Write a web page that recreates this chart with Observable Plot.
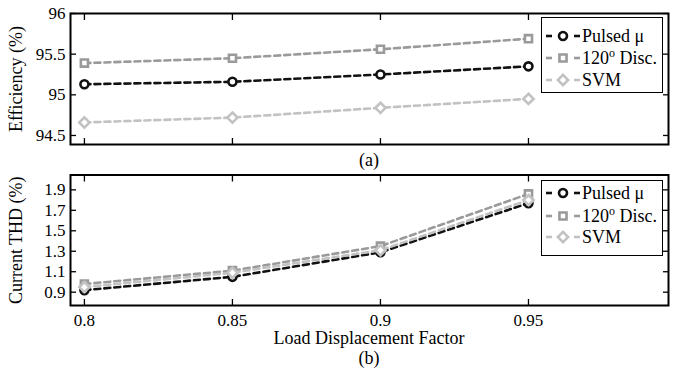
<!DOCTYPE html>
<html>
<head>
<meta charset="utf-8">
<script src="https://cdn.jsdelivr.net/npm/d3@7"></script>
<script src="https://cdn.jsdelivr.net/npm/@observablehq/plot@0.6"></script>
<style>
  html, body { margin: 0; padding: 0; background: white; }
  #wrap { position: relative; width: 681px; height: 369px; background: white; font-family: "Times New Roman", Tinos, serif; color: black; }
  #wrap svg, #wrap svg text, #wrap svg g { font-family: "Times New Roman", Tinos, serif !important; }
  .cap { position: absolute; left: 70px; width: 598px; text-align: center; font-size: 18px; line-height: 18px; }
  .legend { position: absolute; left: 541px; width: 120px; height: 74px; border: 1.5px solid black; background: white; }
  .legrow { position: absolute; left: 3px; height: 22px; display: flex; align-items: center; font-size: 18px; white-space: nowrap; }
  .legrow svg { display: block; margin-right: 2px; }
</style>
</head>
<body>
<div id="wrap"></div>
<script>
// ---- data ----
const xVals = [0.8, 0.85, 0.9, 0.95];
const seriesNames = ["Pulsed μ", "120o Disc.", "SVM"];
const effPulsed = [95.13, 95.16, 95.25, 95.35];
const effDisc   = [95.39, 95.45, 95.56, 95.69];
const effSVM    = [94.66, 94.72, 94.84, 94.95];
const thdPulsed = [0.92, 1.05, 1.29, 1.77];
const thdDisc   = [0.98, 1.11, 1.35, 1.86];
const thdSVM    = [0.95, 1.09, 1.31, 1.80];
const effTicks = [94.5, 95, 95.5, 96];
const thdTicks = [0.9, 1.1, 1.3, 1.5, 1.7, 1.9];
const xLabel = "Load Displacement Factor";
const effLabel = "Efficiency (%)";
const thdLabel = "Current THD (%)";

// ---- styles ----
const styles = [
  {color: "#111111", symbol: "circle", r: 4},
  {color: "#9a9a9a", symbol: "square", r: 4},
  {color: "#c2c2c2", symbol: "diamond2", r: 4.6}
];
const font = "'Times New Roman', Tinos, serif";
const xDomain = [0.7953, 0.9973];

function seriesMarks(valuesList) {
  const marks = [];
  valuesList.forEach((vals, s) => {
    const rows = xVals.map((x, i) => ({x, y: vals[i], series: seriesNames[s]}));
    const st = styles[s];
    marks.push(Plot.line(rows, {x: "x", y: "y", stroke: st.color, strokeWidth: 2.6, strokeDasharray: "6,4"}));
    marks.push(Plot.dot(rows, {x: "x", y: "y", symbol: st.symbol, r: st.r, fill: "white", stroke: st.color, strokeWidth: 2.6}));
  });
  return marks;
}

function tickAxes(yTicks) {
  return [
    Plot.axisY(yTicks, {anchor: "left", tickSize: -6, tickFormat: () => "", label: null, strokeWidth: 1.3}),
    Plot.axisY(yTicks, {anchor: "right", tickSize: -6, tickFormat: () => "", label: null, strokeWidth: 1.3}),
    Plot.axisX(xVals, {anchor: "bottom", tickSize: -6, tickFormat: () => "", label: null, strokeWidth: 1.3}),
    Plot.axisX(xVals, {anchor: "top", tickSize: -6, tickFormat: () => "", label: null, strokeWidth: 1.3})
  ];
}

const wrap = document.getElementById("wrap");
const plotStyle = {fontFamily: font, fontSize: "17px", background: "transparent", overflow: "visible", color: "black"};

// ---- panel (a) ----
const p1 = Plot.plot({
  width: 681, height: 150,
  marginLeft: 70, marginRight: 13, marginTop: 13, marginBottom: 6,
  x: {domain: xDomain},
  y: {domain: [94.389, 96]},
  style: plotStyle,
  marks: [
    ...seriesMarks([effPulsed, effDisc, effSVM]),
    ...tickAxes(effTicks),
    Plot.axisY(effTicks, {anchor: "left", tickSize: 0, tickPadding: 5, tickFormat: () => "",
      label: effLabel, labelAnchor: "center", labelArrow: "none", labelOffset: 61, fontSize: 18}),
    Plot.axisY(effTicks, {anchor: "left", tickSize: 0, tickPadding: 5, tickFormat: d => String(d), label: null}),
    Plot.frame({stroke: "black", strokeWidth: 2})
  ]
});
p1.style.position = "absolute"; p1.style.left = "0px"; p1.style.top = "0px";
wrap.appendChild(p1);

// ---- panel (b) ----
const p2 = Plot.plot({
  width: 681, height: 200,
  marginLeft: 70, marginRight: 13, marginTop: 6.5, marginBottom: 63,
  x: {domain: xDomain},
  y: {domain: [0.770, 2.045]},
  style: plotStyle,
  marks: [
    ...seriesMarks([thdPulsed, thdDisc, thdSVM]),
    ...tickAxes(thdTicks),
    Plot.axisY(thdTicks, {anchor: "left", tickSize: 0, tickPadding: 5, tickFormat: () => "",
      label: thdLabel, labelAnchor: "center", labelArrow: "none", labelOffset: 61, fontSize: 18}),
    Plot.axisY(thdTicks, {anchor: "left", tickSize: 0, tickPadding: 5, tickFormat: d => d.toFixed(1), label: null}),
    Plot.axisX(xVals, {anchor: "bottom", tickSize: 0, tickPadding: 8, tickFormat: d => String(d), label: null}),
    Plot.frame({stroke: "black", strokeWidth: 2})
  ]
});
p2.style.position = "absolute"; p2.style.left = "0px"; p2.style.top = "168px";
wrap.appendChild(p2);

// ---- captions ----
function cap(text, top) {
  const d = document.createElement("div");
  d.className = "cap"; d.style.top = top + "px"; d.textContent = text;
  wrap.appendChild(d);
}
cap("(a)", 151);
cap(xLabel, 329);
cap("(b)", 349);

// ---- legends ----
function legend(top, rowTops) {
  const box = document.createElement("div");
  box.className = "legend"; box.style.top = top + "px";
  seriesNames.forEach((name, s) => {
    const st = styles[s];
    const row = document.createElement("div");
    row.className = "legrow"; row.style.top = rowTops[s] + "px";
    const svg = d3.create("svg").attr("width", 35).attr("height", 20);
    svg.append("line").attr("x1", 1).attr("x2", 7).attr("y1", 10).attr("y2", 10)
      .attr("stroke", st.color).attr("stroke-width", 2.6);
    svg.append("line").attr("x1", 29).attr("x2", 35).attr("y1", 10).attr("y2", 10)
      .attr("stroke", st.color).attr("stroke-width", 2.6);
    const sym = {circle: d3.symbolCircle, square: d3.symbolSquare, diamond2: d3.symbolDiamond2}[st.symbol];
    svg.append("path").attr("d", d3.symbol(sym, Math.PI * st.r * st.r)())
      .attr("transform", "translate(18,10)").attr("fill", "white")
      .attr("stroke", st.color).attr("stroke-width", 2.6);
    row.appendChild(svg.node());
    const t = document.createElement("span");
    if (name.startsWith("120o")) {
      t.innerHTML = "120<sup style='font-size:12px;vertical-align:7px;line-height:0'>o</sup> Disc.";
    } else {
      t.textContent = name;
    }
    row.appendChild(t);
    box.appendChild(row);
  });
  wrap.appendChild(box);
}
legend(17, [7, 29, 51]);
legend(180, [1, 24, 45]);
</script>
</body>
</html>
